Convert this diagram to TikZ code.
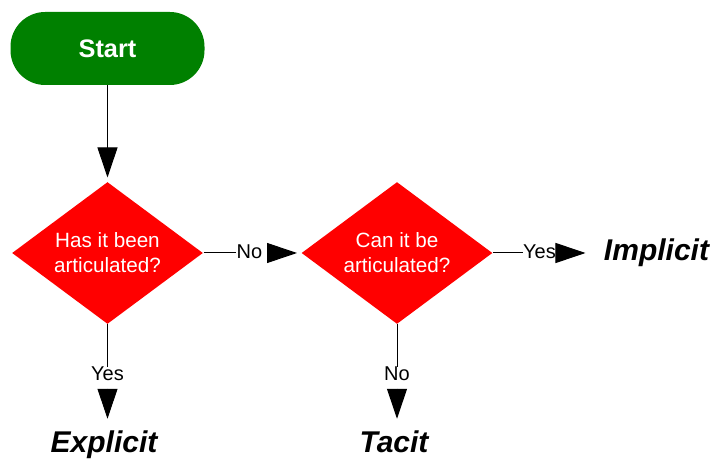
\documentclass[tikz,border=0pt]{standalone}
\usepackage{fontspec}
\setmainfont{Liberation Sans}
\usetikzlibrary{shapes.geometric,arrows.meta}
\definecolor{startgreen}{RGB}{0,128,0}

\begin{document}
\begin{tikzpicture}[x=0.75pt, y=-0.75pt, line width=0.75pt,
    startbox/.style={rectangle, rounded corners=26pt, fill=startgreen, text=white,
      minimum width=145.5pt, minimum height=54.75pt,
      font=\fontsize{19}{23}\selectfont\bfseries},
    decision/.style={diamond, fill=red, text=white, inner sep=0pt, aspect=1.345,
      minimum width=143.25pt, minimum height=106.5pt, align=center,
      font=\fontsize{15.5}{18.75}\selectfont},
    answer/.style={inner sep=0pt, anchor=base, font=\fontsize{15}{18}\selectfont},
    outcome/.style={inner sep=0pt, anchor=base, font=\fontsize{22.5}{27}\selectfont\bfseries\itshape},
    arr/.style={-{Triangle[width=15pt, length=22.5pt]}}]
    \useasboundingbox (0,0) rectangle (714,459);

    \node[startbox] (start) at (107.5, 48.5) {Start};
    \node[decision] (has) at (107.5, 253) {Has it been\\articulated?};
    \node[decision] (can) at (397, 253) {Can it be\\articulated?};
    \node[answer] (no1) at (249.5, 259) {No};
    \node[answer] (yes2) at (539.5, 259) {Yes};
    \node[answer] (yes1) at (107.5, 381) {Yes};
    \node[answer] (no2) at (397, 381) {No};
    \node[outcome] (explicit) at (104, 452) {Explicit};
    \node[outcome] (tacit) at (394, 452) {Tacit};
    \node[outcome] (implicit) at (656.5, 261) {Implicit};

    % 矢印を引く
    \draw[arr, shorten >=3pt] (start.south) -- (has.north);
    \draw (has.east) -- (has.east -| no1.west);
    \draw[arr, shorten <=4.5pt, shorten >=3pt] (has.east -| no1.east) -- (can.west);
    \draw (can.east) -- (can.east -| yes2.west);
    \draw[arr, shorten >=13.5pt] (can.east -| yes2.east) -- (can.east -| implicit.west);
    \draw (has.south) -- (yes1.north);
    \draw[arr, shorten <=5.25pt, shorten >=8.25pt] (yes1.south) -- (yes1.south |- explicit.north);
    \draw (can.south) -- (no2.north);
    \draw[arr, shorten <=5.25pt, shorten >=8.25pt] (no2.south) -- (no2.south |- tacit.north);
  \end{tikzpicture}
\end{document}
